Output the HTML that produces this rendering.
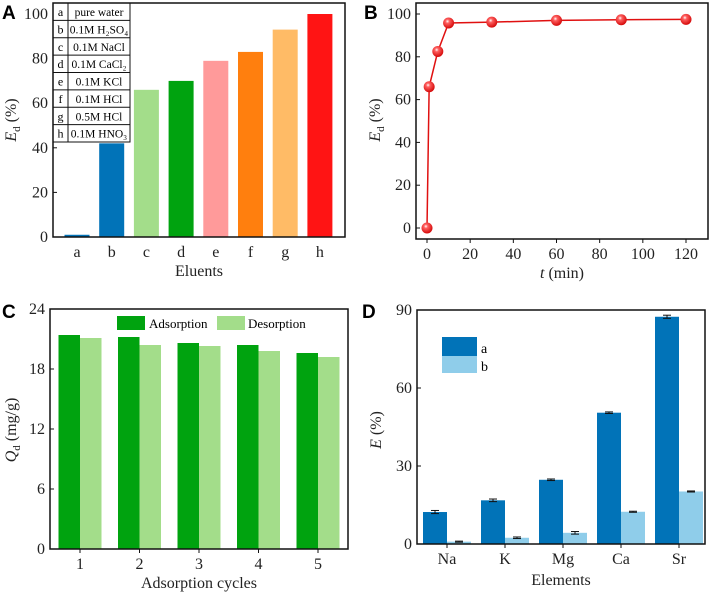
<!DOCTYPE html>
<html><head><meta charset="utf-8"><style>
body{margin:0;background:#fff}
svg{font-family:"Liberation Serif",serif;display:block}
.t{font-size:16px;fill:#222}
.pl{font-family:"Liberation Sans",sans-serif;font-weight:bold;font-size:19px}
</style></head><body>
<svg id="s" width="711" height="592" xmlns="http://www.w3.org/2000/svg">
<defs><radialGradient id="ball" cx="0.4" cy="0.35" r="0.7"><stop offset="0" stop-color="#fff"/><stop offset="0.25" stop-color="#ff6060"/><stop offset="1" stop-color="#d00000"/></radialGradient></defs>
<text class="pl" x="2" y="19">A</text>
<text class="pl" x="364" y="19">B</text>
<text class="pl" x="2" y="318">C</text>
<text class="pl" x="362" y="318">D</text>
</svg>
<script>
const aCats=['a','b','c','d','e','f','g','h'];
const aVals=[1,42,66,70,79,83,93,100];
const aColors=['#0173b8','#0173b8','#a3dd8a','#00a30f','#ff9a9a','#ff7f0e','#ffbb66','#ff1414'];
const aLegend=['pure water','0.1M H₂SO₄','0.1M NaCl','0.1M CaCl₂','0.1M KCl','0.1M HCl','0.5M HCl','0.1M HNO₃'];
const aTicks=[0,20,40,60,80,100];
const bT=[0,1,5,10,30,60,90,120];
const bE=[0,66,82.5,95.8,96.2,97,97.3,97.5];
const bYTicks=[0,20,40,60,80,100];
const bXTicks=[0,20,40,60,80,100,120];
const cCats=['1','2','3','4','5'];
const cAds=[21.4,21.2,20.6,20.4,19.6];
const cDes=[21.1,20.4,20.3,19.8,19.2];
const cTicks=[0,6,12,18,24];
const dCats=['Na','K','Mg','Ca','Sr'];
const dA=[12.3,16.8,24.7,50.5,87.4];
const dAerr=[0.6,0.5,0.3,0.3,0.6];
const dB=[0.9,2.4,4.3,12.4,20.2];
const dBerr=[0.2,0.3,0.5,0.2,0.2];
const dTicks=[0,30,60,90];

const S=document.getElementById('s');const NS='http://www.w3.org/2000/svg';
function el(t,a,txt){const e=document.createElementNS(NS,t);for(const k in a)e.setAttribute(k,a[k]);if(txt!==undefined)e.textContent=txt;S.appendChild(e);return e;}
function frame(x0,y0,x1,y1,name){const r=el('rect',{x:x0,y:y0,width:x1-x0,height:y1-y0,fill:'none',stroke:'#111','stroke-width':1.5});

}
function ytick(x0,y,label,name){el('line',{x1:x0,x2:x0+4,y1:y,y2:y,stroke:'#111'});const t=el('text',{x:x0-5,y:y+5,'text-anchor':'end',class:'t'},label);

}
function xtick(x,y1,label,name,tick){if(tick)el('line',{x1:x,x2:x,y1:y1,y2:y1+4,stroke:'#111'});const t=el('text',{x:x,y:y1+20,'text-anchor':'middle',class:'t'},label);

}
function title(x,y,html,name,rot){const t=el('text',{x:x,y:y,'text-anchor':'middle',class:'t',transform:rot?`rotate(-90 ${x} ${y})`:''});t.innerHTML=html;

}

// Panel A
{const x0=53,x1=345,y0=3,y1=237;const ya=v=>237-v*2.23;const xa=i=>77+i*34.7;
aCats.forEach((c,i)=>{const r=el('rect',{x:xa(i)-12.5,y:ya(aVals[i]),width:25,height:237-ya(aVals[i]),fill:aColors[i]});


xtick(xa(i),y1,c,'x-tick-'+c,false);});
aTicks.forEach(v=>ytick(x0,ya(v),v,'y-tick-'+v));
// legend table
const rh=(142-3)/8;el('rect',{x:x0,y:y0,width:77,height:139,fill:'#fff',stroke:'#111'});el('line',{x1:68,x2:68,y1:y0,y2:142,stroke:'#111'});
aLegend.forEach((l,i)=>{if(i>0)el('line',{x1:x0,x2:130,y1:y0+rh*i,y2:y0+rh*i,stroke:'#111'});
const a=el('text',{x:60.5,y:y0+rh*i+13,'text-anchor':'middle','font-size':'12px'},aCats[i]);


const b=el('text',{x:99,y:y0+rh*i+13,'text-anchor':'middle','font-size':'11.5px'},l);

});
frame(x0,y0,x1,y1,'plot-frame-a');
title(199,276,'Eluents','x-axis-title-a');
title(16,120,'<tspan font-style="italic">E</tspan><tspan font-size="11" dy="4">d</tspan><tspan dy="-4"> (%)</tspan>','y-axis-title-a',true);}

// Panel B
{const x0=416,x1=708,y0=3,y1=239;const ya=v=>228-v*2.14;const xa=v=>427+v*(259/120);
bYTicks.forEach(v=>ytick(x0,ya(v),v,'y-tick-b-'+v));
bXTicks.forEach(v=>xtick(xa(v),y1,v,'x-tick-b-'+v,true));
const ln=el('polyline',{points:bT.map((t,i)=>xa(t)+','+ya(bE[i])).join(' '),fill:'none',stroke:'#e01010','stroke-width':1.5});


bT.forEach((t,i)=>{const c=el('circle',{cx:xa(t),cy:ya(bE[i]),r:5.5,fill:'url(#ball)'});

});
frame(x0,y0,x1,y1,'plot-frame-b');
title(562,278,'<tspan font-style="italic">t</tspan> (min)','x-axis-title-b');
title(380,120,'<tspan font-style="italic">E</tspan><tspan font-size="11" dy="4">d</tspan><tspan dy="-4"> (%)</tspan>','y-axis-title-b',true);}

// Panel C
{const x0=50,x1=348,y0=309,y1=549;const ya=v=>549-v*10;const xa=i=>80+i*59.5;
cCats.forEach((c,i)=>{const r=el('rect',{x:xa(i)-21.5,y:ya(cAds[i]),width:21.5,height:549-ya(cAds[i]),fill:'#00a30f'});


const r2=el('rect',{x:xa(i),y:ya(cDes[i]),width:21.5,height:549-ya(cDes[i]),fill:'#a3dd8a'});


xtick(xa(i),y1,c,'x-tick-c-'+c,true);});
cTicks.forEach(v=>ytick(x0,ya(v),v,'y-tick-c-'+v));
el('rect',{x:117,y:316,width:28,height:14,fill:'#00a30f'});el('rect',{x:217,y:316,width:28,height:14,fill:'#a3dd8a'});
const l1=el('text',{x:149,y:328,'font-size':'13px'},'Adsorption');


const l2=el('text',{x:248,y:328,'font-size':'13px'},'Desorption');


frame(x0,y0,x1,y1,'plot-frame-c');
title(199,588,'Adsorption cycles','x-axis-title-c');
title(16,430,'<tspan font-style="italic">Q</tspan><tspan font-size="11" dy="4">d</tspan><tspan dy="-4"> (mg/g)</tspan>','y-axis-title-c',true);}

// Panel D
{const x0=417,x1=705,y0=310,y1=544;const ya=v=>544-v*2.6;const xa=i=>447+i*58;
dCats.forEach((c,i)=>{const r=el('rect',{x:xa(i)-24,y:ya(dA[i]),width:24,height:544-ya(dA[i]),fill:'#0173b8'});


const r2=el('rect',{x:xa(i),y:ya(dB[i]),width:24,height:544-ya(dB[i]),fill:'#8fcdea'});


[[xa(i)-12,dA[i],dAerr[i]],[xa(i)+12,dB[i],dBerr[i]]].forEach(([x,v,e])=>{el('line',{x1:x,x2:x,y1:ya(v+e),y2:ya(v-e),stroke:'#111'});el('line',{x1:x-4,x2:x+4,y1:ya(v+e),y2:ya(v+e),stroke:'#111'});el('line',{x1:x-4,x2:x+4,y1:ya(v-e),y2:ya(v-e),stroke:'#111'});});
xtick(xa(i),y1,c,'x-tick-d-'+c,true);});
dTicks.forEach(v=>ytick(x0,ya(v),v,'y-tick-d-'+v));
el('rect',{x:442,y:337,width:35,height:19,fill:'#0173b8'});el('rect',{x:442,y:356,width:35,height:17,fill:'#8fcdea'});
const l1=el('text',{x:481,y:353,'font-size':'14px'},'a');


const l2=el('text',{x:481,y:371,'font-size':'14px'},'b');


frame(x0,y0,x1,y1,'plot-frame-d');
title(561,585,'Elements','x-axis-title-d');
title(381,430,'<tspan font-style="italic">E</tspan> (%)','y-axis-title-d',true);}
</script>
</body></html>
